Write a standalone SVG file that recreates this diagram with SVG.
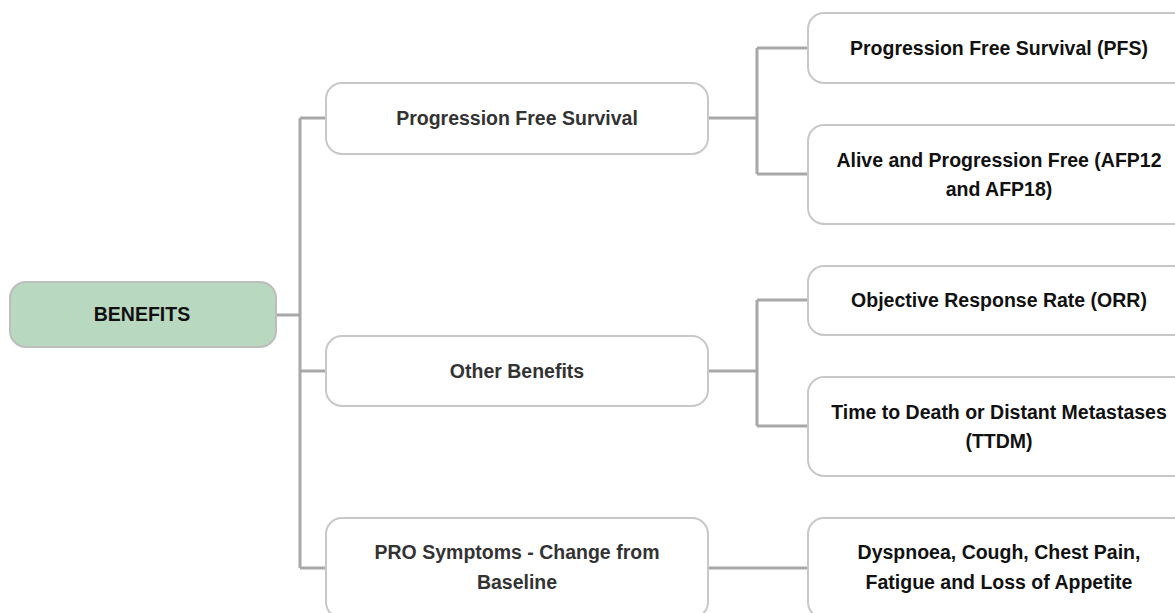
<svg xmlns="http://www.w3.org/2000/svg" width="1175" height="613" viewBox="0 0 1175 613">
<style>
.box{fill:#fff;stroke:#c8c8c8;stroke-width:2}
.root{fill:#b9d8c0;stroke:#bdbdbd;stroke-width:2}
.t{font-family:"Liberation Sans",Arial,sans-serif;font-weight:bold;font-size:19.5px;text-anchor:middle}
.mid{fill:#333}
.leaf{fill:#111}
.c{fill:none;stroke:#a8a8a8;stroke-width:3}
</style>
<rect width="1175" height="613" fill="#fff"/>
<g id="connectors">
<path class="c" d="M276 315H300M300 118V568M300 118H326M300 371H326M300 568H326"/>
<path class="c" d="M708 118H757M757 48V174M757 48H808M757 174H808"/>
<path class="c" d="M708 371H757M757 300V426M757 300H808M757 426H808"/>
<path class="c" d="M708 568H808"/>
</g>
<g id="benefits">
<rect class="root" x="10" y="282" width="266" height="65" rx="16"/>
<text class="t leaf" x="142" y="321">BENEFITS</text>
</g>
<g id="pfs-group">
<rect class="box" x="326" y="83" width="382" height="71" rx="16"/>
<text class="t mid" x="517" y="125">Progression Free Survival</text>
</g>
<g id="other">
<rect class="box" x="326" y="336" width="382" height="70" rx="16"/>
<text class="t mid" x="517" y="378">Other Benefits</text>
</g>
<g id="pro">
<rect class="box" x="326" y="518" width="382" height="100" rx="16"/>
<text class="t mid" x="517" y="559">PRO Symptoms - Change from</text>
<text class="t mid" x="517" y="589">Baseline</text>
</g>
<g id="pfs">
<rect class="box" x="808" y="13" width="382" height="70" rx="16"/>
<text class="t leaf" x="999" y="55">Progression Free Survival (PFS)</text>
</g>
<g id="afp">
<rect class="box" x="808" y="125" width="382" height="99" rx="16"/>
<text class="t leaf" x="999" y="167">Alive and Progression Free (AFP12</text>
<text class="t leaf" x="999" y="196">and AFP18)</text>
</g>
<g id="orr">
<rect class="box" x="808" y="266" width="382" height="69" rx="16"/>
<text class="t leaf" x="999" y="307">Objective Response Rate (ORR)</text>
</g>
<g id="ttdm">
<rect class="box" x="808" y="377" width="382" height="99" rx="16"/>
<text class="t leaf" x="999" y="419">Time to Death or Distant Metastases</text>
<text class="t leaf" x="999" y="448">(TTDM)</text>
</g>
<g id="symptoms">
<rect class="box" x="808" y="518" width="382" height="100" rx="16"/>
<text class="t leaf" x="999" y="559">Dyspnoea, Cough, Chest Pain,</text>
<text class="t leaf" x="999" y="589">Fatigue and Loss of Appetite</text>
</g>
</svg>
